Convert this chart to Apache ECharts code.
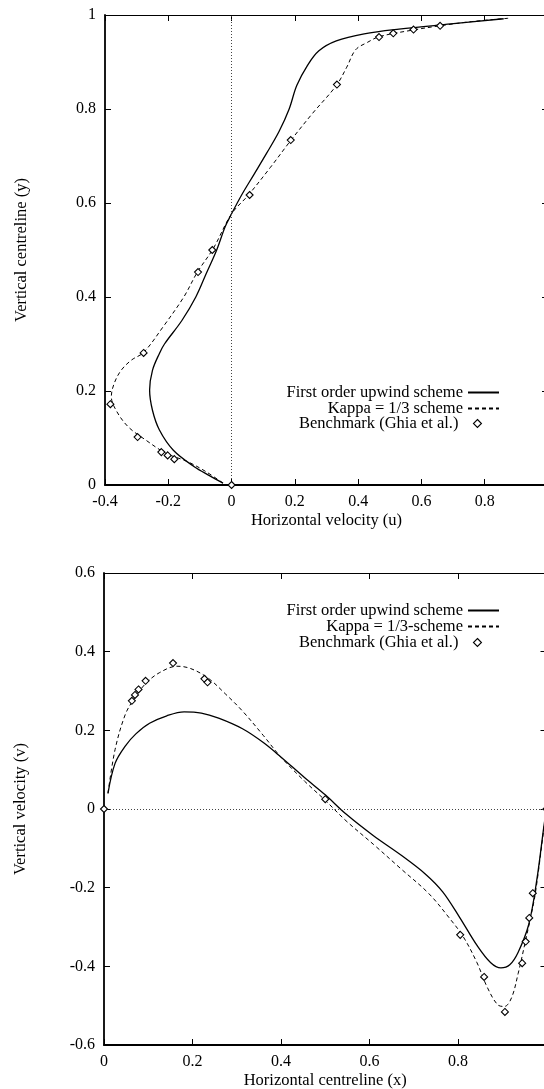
<!DOCTYPE html>
<html>
<head>
<meta charset="utf-8">
<script src="https://cdn.jsdelivr.net/npm/echarts@6/dist/echarts.min.js"></script>
<style>
  html, body { margin: 0; padding: 0; background: #fff; }
  #chart { width: 544px; height: 1089px; }
</style>
</head>
<body>
<div id="chart"></div>
<script>
// top panel: u along vertical centreline, pairs are [u, y]
const upwindTop = [
  [-0.027, 0.004], [-0.070, 0.020], [-0.118, 0.039], [-0.184, 0.074], [-0.228, 0.117],
  [-0.250, 0.159], [-0.259, 0.202], [-0.250, 0.244], [-0.228, 0.280], [-0.212, 0.300],
  [-0.157, 0.350], [-0.113, 0.400], [-0.080, 0.450], [-0.047, 0.500], [-0.020, 0.550],
  [0, 0.577], [0.030, 0.615], [0.070, 0.660], [0.110, 0.705], [0.150, 0.752],
  [0.182, 0.800], [0.206, 0.850], [0.240, 0.893], [0.276, 0.924], [0.331, 0.945],
  [0.419, 0.960], [0.529, 0.970], [0.693, 0.981], [0.860, 0.992]
];
const kappaTop = [
  [-0.027, 0.004], [-0.080, 0.028], [-0.140, 0.050], [-0.206, 0.067], [-0.272, 0.096],
  [-0.327, 0.124], [-0.365, 0.159], [-0.380, 0.188], [-0.371, 0.216], [-0.349, 0.244],
  [-0.316, 0.266], [-0.278, 0.282], [-0.217, 0.336], [-0.151, 0.400], [-0.108, 0.453],
  [-0.058, 0.503], [0, 0.577], [0.052, 0.616], [0.123, 0.676], [0.187, 0.733],
  [0.255, 0.790], [0.331, 0.850], [0.364, 0.889], [0.392, 0.926], [0.430, 0.942],
  [0.467, 0.954], [0.573, 0.968], [0.658, 0.977], [0.759, 0.986], [0.874, 0.993]
];
const ghiaTop = [
  [0, 0], [-0.181, 0.055], [-0.202, 0.063], [-0.222, 0.070], [-0.297, 0.102],
  [-0.383, 0.172], [-0.278, 0.281], [-0.106, 0.453], [-0.061, 0.500], [0.057, 0.617],
  [0.187, 0.734], [0.333, 0.852], [0.466, 0.953], [0.511, 0.961], [0.575, 0.969],
  [0.659, 0.977], [1, 1]
];

// bottom panel: v along horizontal centreline, pairs are [x, v]
const upwindBottom = [
  [0.009, 0.040], [0.025, 0.116], [0.048, 0.160], [0.072, 0.191], [0.103, 0.218],
  [0.142, 0.237], [0.181, 0.247], [0.220, 0.244], [0.259, 0.231], [0.313, 0.204],
  [0.360, 0.169], [0.399, 0.133], [0.453, 0.080], [0.500, 0.036], [0.547, -0.013],
  [0.609, -0.068], [0.671, -0.117], [0.726, -0.165], [0.765, -0.210], [0.804, -0.276],
  [0.843, -0.347], [0.874, -0.391], [0.897, -0.404], [0.917, -0.396], [0.936, -0.364],
  [0.960, -0.293], [0.978, -0.181], [0.994, -0.045], [1.0, 0]
];
const kappaBottom = [
  [0.009, 0.040], [0.025, 0.151], [0.048, 0.240], [0.068, 0.280], [0.095, 0.320],
  [0.126, 0.347], [0.165, 0.363], [0.196, 0.357], [0.235, 0.333], [0.274, 0.293],
  [0.313, 0.249], [0.360, 0.187], [0.399, 0.133], [0.453, 0.071], [0.500, 0.022],
  [0.547, -0.030], [0.609, -0.090], [0.671, -0.152], [0.734, -0.215], [0.781, -0.278],
  [0.812, -0.325], [0.843, -0.391], [0.866, -0.453], [0.890, -0.498], [0.905, -0.502],
  [0.921, -0.480], [0.936, -0.418], [0.952, -0.338], [0.964, -0.276], [0.975, -0.213],
  [0.994, -0.050], [1.0, 0]
];
const ghiaBottom = [
  [0, 0], [0.063, 0.275], [0.070, 0.290], [0.078, 0.304], [0.094, 0.326],
  [0.156, 0.371], [0.227, 0.331], [0.234, 0.322], [0.500, 0.025], [0.805, -0.320],
  [0.859, -0.427], [0.906, -0.516], [0.945, -0.392], [0.953, -0.337], [0.961, -0.277],
  [0.969, -0.214], [1, 0]
];

const topTicks = { min: -0.4, max: 1, interval: 0.2 };
const topYTicks = { min: 0, max: 1, interval: 0.2 };
const bottomTicks = { min: 0, max: 1, interval: 0.2 };
const bottomYTicks = { min: -0.6, max: 0.6, interval: 0.2 };

const font = 'Liberation Serif';
const chart = echarts.init(document.getElementById('chart'), null, { renderer: 'canvas' });

function mainAxis(gridIndex, ticks, pos, name, nameGap) {
  return {
    type: 'value', gridIndex: gridIndex, position: pos,
    min: ticks.min, max: ticks.max, interval: ticks.interval,
    name: name, nameLocation: 'middle', nameGap: nameGap,
    nameTextStyle: { fontFamily: font, fontSize: 16.5, color: '#000' },
    axisLine: { show: true, onZero: false, lineStyle: { color: '#000', width: 1.8 } },
    axisTick: { show: true, inside: true, length: 6, lineStyle: { color: '#000', width: 1 } },
    axisLabel: { fontFamily: font, fontSize: 16, color: '#000', margin: 9, showMaxLabel: pos === 'left' },
    splitLine: { show: false }
  };
}
function frameAxis(gridIndex, ticks, pos) {
  return {
    type: 'value', gridIndex: gridIndex, position: pos,
    min: ticks.min, max: ticks.max, interval: ticks.interval,
    axisLine: { show: true, onZero: false, lineStyle: { color: '#000', width: 1 } },
    axisTick: { show: true, inside: true, length: 6, lineStyle: { color: '#000', width: 1 } },
    axisLabel: { show: false },
    splitLine: { show: false }
  };
}
function lineSeries(name, data, xi, yi, dashed, zeroLine) {
  const s = {
    name: name, type: 'line', xAxisIndex: xi, yAxisIndex: yi, data: data,
    symbol: 'none', smooth: 0.35,
    lineStyle: dashed ? { color: '#000', width: 1, type: [4, 3] } : { color: '#000', width: 1.3 },
    itemStyle: { color: '#000' }, z: 3
  };
  if (zeroLine) {
    s.markLine = {
      silent: true, symbol: ['none', 'none'], label: { show: false },
      lineStyle: { color: '#444', width: 1, type: [1, 2] },
      data: [zeroLine]
    };
  }
  return s;
}
function ghiaSeries(data, xi, yi) {
  return {
    name: 'Benchmark (Ghia et al.)', type: 'scatter', xAxisIndex: xi, yAxisIndex: yi, data: data,
    symbol: 'diamond', symbolSize: 7,
    itemStyle: { color: '#fff', borderColor: '#000', borderWidth: 1.1, opacity: 1 }, z: 5
  };
}
function legendRow(name, top, isPoint) {
  const l = {
    data: [name], top: top, padding: 0,
    itemWidth: isPoint ? 8 : 31, itemHeight: isPoint ? 8 : 14,
    right: isPoint ? 62 : 44,
    textStyle: { fontFamily: font, fontSize: 16.5, color: '#000', padding: [0, isPoint ? 10 : 0, 0, 0] },
    selectedMode: false, align: 'right'
  };
  if (isPoint) {
    l.icon = 'diamond';
    l.itemStyle = { color: '#fff', borderColor: '#000', borderWidth: 1.1 };
  } else {
    // only the line sample, no symbol on it
    l.itemStyle = { color: 'rgba(0,0,0,0)', borderWidth: 0, opacity: 0 };
  }
  return l;
}

const option = {
  animation: false,
  backgroundColor: '#fff',
  textStyle: { fontFamily: font },
  grid: [
    { left: 105, top: 15, width: 443, height: 470, outerBoundsMode: 'none' },
    { left: 104, top: 573, width: 442.5, height: 472, outerBoundsMode: 'none' }
  ],
  legend: [
    legendRow('First order upwind scheme', 384, false),
    legendRow('Kappa = 1/3 scheme', 400, false),
    legendRow('Benchmark (Ghia et al.)', 415, true),
    legendRow('First order upwind scheme', 602, false),
    legendRow('Kappa = 1/3-scheme', 618, false),
    legendRow('Benchmark (Ghia et al.)', 634, true)
  ],
  xAxis: [
    mainAxis(0, topTicks, 'bottom', 'Horizontal velocity (u)', 27),
    frameAxis(0, topTicks, 'top'),
    mainAxis(1, bottomTicks, 'bottom', 'Horizontal centreline (x)', 27),
    frameAxis(1, bottomTicks, 'top')
  ],
  yAxis: [
    mainAxis(0, topYTicks, 'left', 'Vertical centreline (y)', 75),
    frameAxis(0, topYTicks, 'right'),
    mainAxis(1, bottomYTicks, 'left', 'Vertical velocity (v)', 75),
    frameAxis(1, bottomYTicks, 'right')
  ],
  series: [
    lineSeries('First order upwind scheme', upwindTop, 0, 0, false, { xAxis: 0 }),
    lineSeries('Kappa = 1/3 scheme', kappaTop, 0, 0, true),
    ghiaSeries(ghiaTop, 0, 0),
    lineSeries('First order upwind scheme', upwindBottom, 2, 2, false, { yAxis: 0 }),
    lineSeries('Kappa = 1/3-scheme', kappaBottom, 2, 2, true),
    ghiaSeries(ghiaBottom, 2, 2)
  ]
};
chart.setOption(option);
</script>
</body>
</html>
